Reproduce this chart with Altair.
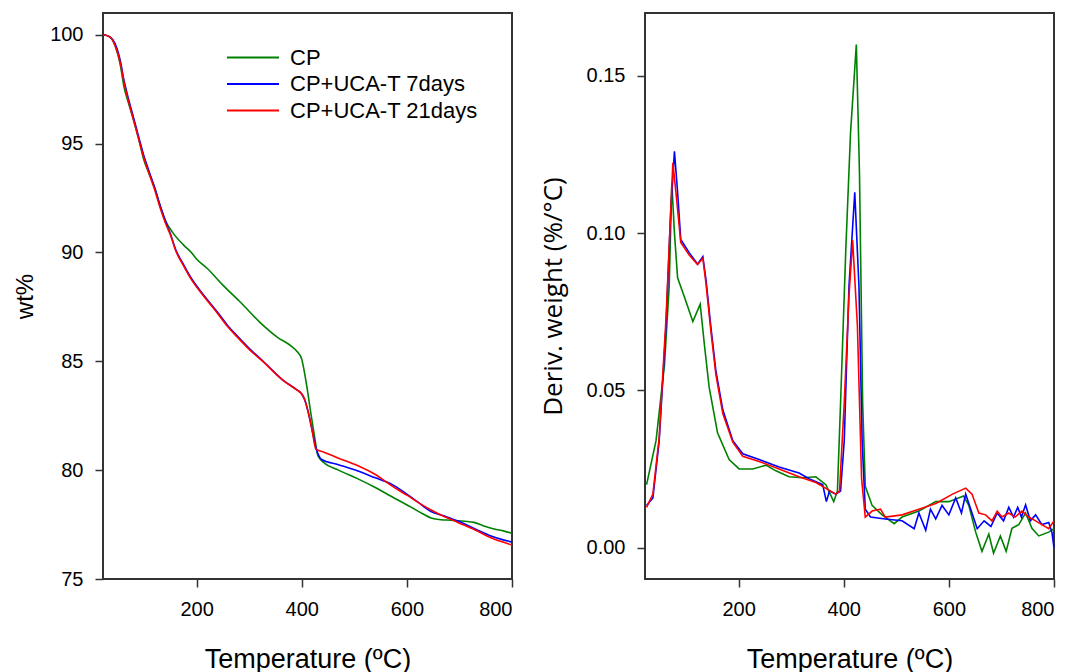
import altair as alt
import pandas as pd

SERIES = ["CP", "CP+UCA-T 7days", "CP+UCA-T 21days"]
COLORS = ["#008000", "#0000FF", "#FF0000"]

# ---- TGA (wt%) ----
tga_cp_T = [23, 35, 45, 55, 62, 70, 80, 90, 99, 110, 120, 130, 140, 155, 175, 190, 200, 221, 250, 284,
            320, 354, 380, 392, 400, 404, 410, 417, 424, 431, 442, 470, 507, 540, 570, 608, 630, 646,
            665, 684, 710, 728, 745, 766, 785, 800]
tga_cp_v = [100.0, 99.9, 99.5, 98.6, 97.6, 96.9, 96.1, 95.2, 94.3, 93.6, 93.0, 92.2, 91.5, 90.9, 90.35,
            90.0, 89.7, 89.25, 88.5, 87.7, 86.8, 86.1, 85.7, 85.43, 85.1, 84.65, 83.8, 82.67, 81.6,
            80.65, 80.35, 80.0, 79.6, 79.2, 78.8, 78.3, 78.0, 77.8, 77.72, 77.7, 77.65, 77.6, 77.45,
            77.3, 77.2, 77.1]

tga_7d_T = [23, 35, 45, 55, 62, 70, 80, 90, 99, 110, 120, 130, 140, 151, 160, 175, 189, 210, 240, 259,
            278, 300, 328, 366, 390, 400, 406, 413, 421, 428, 433, 437, 470, 507, 540, 570, 600, 620,
            646, 670, 697, 730, 760, 780, 800]
tga_7d_v = [100.0, 99.9, 99.6, 98.8, 97.9, 97.1, 96.2, 95.3, 94.5, 93.7, 93.0, 92.2, 91.5, 90.8, 90.15,
            89.45, 88.85, 88.15, 87.25, 86.65, 86.15, 85.6, 84.97, 84.1, 83.7, 83.5, 83.2, 82.6, 81.7,
            80.95, 80.65, 80.5, 80.25, 79.96, 79.65, 79.37, 78.9, 78.55, 78.1, 77.9, 77.66, 77.3,
            76.98, 76.82, 76.7]

tga_21d_T = [23, 35, 45, 55, 62, 70, 80, 90, 99, 110, 120, 130, 140, 151, 160, 175, 189, 210, 240, 259,
             278, 300, 328, 366, 390, 398, 405, 412, 420, 427, 440, 470, 507, 540, 570, 600, 633, 660,
             697, 730, 760, 780, 800]
tga_21d_v = [100.0, 99.9, 99.5, 98.7, 97.8, 97.0, 96.1, 95.2, 94.4, 93.6, 92.9, 92.1, 91.4, 90.76, 90.1,
             89.4, 88.8, 88.1, 87.2, 86.6, 86.1, 85.55, 84.95, 84.1, 83.7, 83.55, 83.3, 82.7, 81.8,
             80.97, 80.85, 80.55, 80.2, 79.8, 79.3, 78.85, 78.35, 78.0, 77.6, 77.25, 76.9, 76.72, 76.56]

# ---- DTG (Deriv. weight) ----
dtg_cp_T = [25, 43, 59, 68, 73, 78, 84, 97, 113, 127, 135, 144, 160, 182, 201, 227, 252, 271, 296, 322,
            347, 366, 381, 388, 394, 404, 413, 424, 430, 436, 441, 454, 473, 496, 511, 543, 575, 600,
            628, 638, 651, 663, 676, 685, 698, 709, 720, 733, 746, 758, 771, 790, 800]
dtg_cp_v = [0.020, 0.034, 0.058, 0.083, 0.116, 0.100, 0.0858, 0.0797, 0.0719, 0.0774, 0.0645, 0.051,
            0.0365, 0.028, 0.025, 0.025, 0.0262, 0.0244, 0.0225, 0.0222, 0.0225, 0.020, 0.0146, 0.018,
            0.046, 0.095, 0.132, 0.160, 0.119, 0.046, 0.0195, 0.0134, 0.0104, 0.0076, 0.0097, 0.0116,
            0.0146, 0.0146, 0.0164, 0.0134, 0.0049, -0.0012, 0.0043, -0.0018, 0.0037, -0.0012, 0.0061,
            0.0073, 0.011, 0.0061, 0.0037, 0.0049, 0.006]

dtg_7d_T = [25, 37, 49, 62, 71, 78, 84, 90, 106, 122, 132, 138, 147, 157, 170, 189, 208, 239, 277, 315,
            334, 360, 367, 373, 385, 394, 401, 410, 421, 429, 435, 441, 451, 479, 511, 534, 543, 556,
            565, 575, 587, 600, 613, 624, 632, 644, 654, 667, 680, 692, 704, 714, 723, 731, 738, 746,
            755, 765, 777, 790, 796, 800]
dtg_7d_v = [0.0134, 0.0158, 0.034, 0.0706, 0.107, 0.126, 0.113, 0.098, 0.0938, 0.0901, 0.0925, 0.0852,
            0.0706, 0.056, 0.0438, 0.034, 0.0298, 0.028, 0.0256, 0.0237, 0.0219, 0.020, 0.0146, 0.018,
            0.017, 0.018, 0.034, 0.083, 0.113, 0.083, 0.034, 0.0122, 0.0097, 0.0091, 0.0085, 0.006,
            0.011, 0.0055, 0.0122, 0.0091, 0.0134, 0.0104, 0.0158, 0.011, 0.017, 0.011, 0.006, 0.0085,
            0.0067, 0.011, 0.0085, 0.0128, 0.0097, 0.0128, 0.0097, 0.0136, 0.0085, 0.0104, 0.0073,
            0.008, 0.0049, 0.000]

dtg_21d_T = [25, 37, 49, 62, 75, 82, 90, 106, 122, 132, 138, 147, 157, 170, 189, 208, 239, 277, 315, 347,
             385, 392, 401, 410, 417, 426, 434, 441, 454, 470, 479, 511, 543, 575, 607, 632, 644, 657,
             670, 682, 692, 701, 714, 726, 739, 752, 765, 777, 790, 800]
dtg_21d_v = [0.0128, 0.017, 0.035, 0.073, 0.1224, 0.111, 0.097, 0.093, 0.090, 0.092, 0.084, 0.0694,
             0.0548, 0.0426, 0.0335, 0.029, 0.0274, 0.025, 0.0225, 0.0207, 0.017, 0.018, 0.046, 0.080,
             0.0977, 0.0706, 0.0219, 0.0097, 0.0116, 0.0122, 0.0097, 0.0104, 0.0122, 0.014, 0.017,
             0.0189, 0.017, 0.011, 0.0104, 0.0085, 0.0116, 0.0097, 0.011, 0.0097, 0.0116, 0.0097,
             0.0085, 0.0073, 0.006, 0.0085]


def frame(parts):
    rows = []
    for name, ts, vs in parts:
        for i, (t, v) in enumerate(zip(ts, vs)):
            rows.append({"T": t, "v": v, "series": name, "order": i})
    return pd.DataFrame(rows)


tga = frame([(SERIES[0], tga_cp_T, tga_cp_v), (SERIES[1], tga_7d_T, tga_7d_v),
             (SERIES[2], tga_21d_T, tga_21d_v)])
dtg = frame([(SERIES[0], dtg_cp_T, dtg_cp_v), (SERIES[1], dtg_7d_T, dtg_7d_v),
             (SERIES[2], dtg_21d_T, dtg_21d_v)])

FONT = "Liberation Sans"
XDOM = [22, 800]

x_enc = alt.X("T:Q", scale=alt.Scale(domain=XDOM, nice=False, zero=False),
              axis=alt.Axis(values=[200, 400, 600, 800], title="Temperature (ºC)"))

left = alt.Chart(tga).mark_line(strokeWidth=1.6, interpolate="monotone").encode(
    x=x_enc,
    y=alt.Y("v:Q", scale=alt.Scale(domain=[75, 101], nice=False, zero=False),
            axis=alt.Axis(values=[75, 80, 85, 90, 95, 100], title="wt%", titlePadding=12,
                          labelPadding=12)),
    color=alt.Color("series:N",
                    scale=alt.Scale(domain=SERIES, range=COLORS),
                    legend=alt.Legend(title=None, orient="none", legendX=136, legendY=30.5,
                                      symbolType="M-2,0H2", symbolSize=676, symbolStrokeWidth=1.8,
                                      labelFontSize=22, labelFont=FONT, labelColor="black",
                                      labelLimit=0, rowPadding=1.5, labelOffset=23)),
    order="order:Q",
).properties(width=409, height=566)

right = alt.Chart(dtg).mark_line(strokeWidth=1.6).encode(
    x=x_enc,
    y=alt.Y("v:Q", scale=alt.Scale(domain=[-0.01, 0.17], nice=False, zero=False),
            axis=alt.Axis(values=[0, 0.05, 0.10, 0.15], format=".2f", labelPadding=12,
                          title="Deriv. weight (%/°C)", titleFont="Open Sans",
                          titleFontSize=26, titlePadding=20)),
    color=alt.Color("series:N", scale=alt.Scale(domain=SERIES, range=COLORS), legend=None),
    order="order:Q",
).properties(width=409, height=566)

chart = alt.hconcat(left, right, spacing=22).resolve_scale(
    color="independent", y="independent"
).properties(
    padding={"left": 4, "top": 4, "right": 0, "bottom": 0}
).configure_view(
    stroke="#333333", strokeWidth=2
).configure_axis(
    grid=False, domain=False, tickColor="#333333", tickWidth=1.5, tickSize=8,
    labelFont=FONT, labelFontSize=20, labelColor="black", labelPadding=12,
    titleFont=FONT, titleFontSize=24, titleColor="black", titleFontWeight="normal"
).configure_axisX(
    labelPadding=12, titleFontSize=27, titlePadding=27
)

chart.save("out.html", embed_options={"renderer": "svg", "actions": False})
